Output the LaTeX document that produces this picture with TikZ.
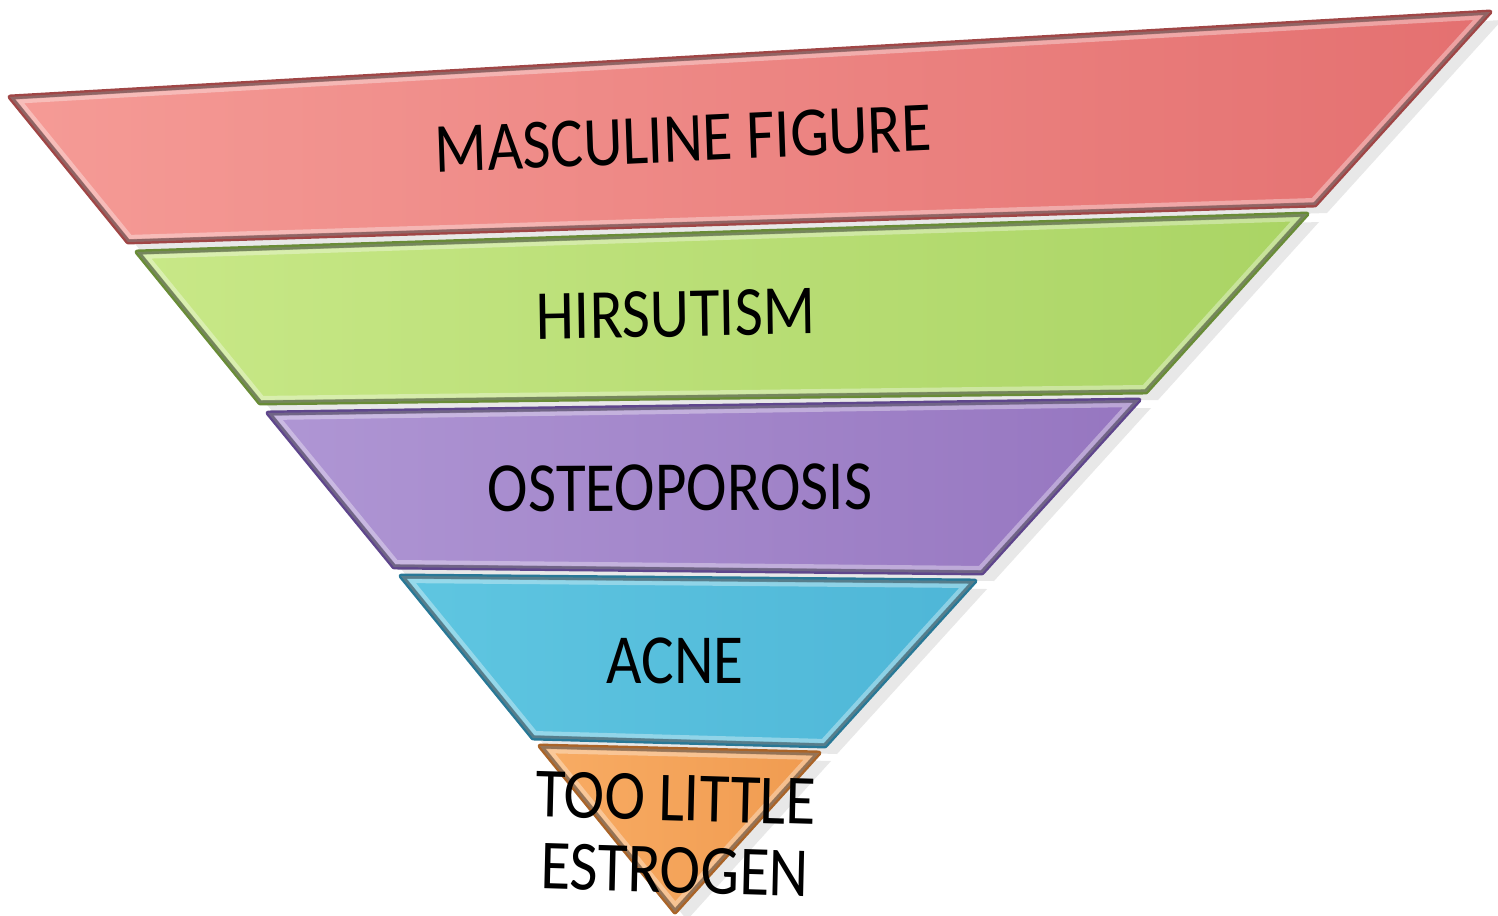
\documentclass[tikz,border=0pt]{standalone}
\usepackage{fontspec}
\setmainfont{Carlito}
\usetikzlibrary{calc,shadows}
\definecolor{figureleft}{RGB}{245,155,150}
\definecolor{figureright}{RGB}{228,112,112}
\definecolor{figureedge}{RGB}{160,70,70}
\definecolor{hairleft}{RGB}{200,232,135}
\definecolor{hairright}{RGB}{170,212,100}
\definecolor{hairedge}{RGB}{105,140,55}
\definecolor{boneleft}{RGB}{175,150,212}
\definecolor{boneright}{RGB}{150,118,192}
\definecolor{boneedge}{RGB}{95,70,140}
\definecolor{acneleft}{RGB}{95,198,225}
\definecolor{acneright}{RGB}{78,182,215}
\definecolor{acneedge}{RGB}{40,120,150}
\definecolor{estrogenleft}{RGB}{248,172,100}
\definecolor{estrogenright}{RGB}{240,155,80}
\definecolor{estrogenedge}{RGB}{170,100,40}
\tikzset{
bandtext/.style={
  font=\fontsize{17.4}{21}\selectfont,
  text=black,
  align=center,
  inner sep=0pt,
  yscale=1.15
},
band/.style={
  line width=1.4pt,
  line join=round,
  drop shadow={opacity=0.18, shadow xshift=1.2mm, shadow yshift=-0.8mm}
},
figureband/.style={band, left color=figureleft, right color=figureright, draw=figureedge},
hairband/.style={band, left color=hairleft, right color=hairright, draw=hairedge},
boneband/.style={band, left color=boneleft, right color=boneright, draw=boneedge},
acneband/.style={band, left color=acneleft, right color=acneright, draw=acneedge},
estrogenband/.style={band, left color=estrogenleft, right color=estrogenright, draw=estrogenedge},
bevel/.style={
  draw=white,
  opacity=0.35,
  line width=4pt,
  line join=round
}
}
% one band of the funnel: style, outline
\newcommand{\funnelband}[2]{
  \path[#1] #2;
  \begin{scope}
    \clip #2;
    \draw[bevel] #2;
    \draw[line width=1.6pt, black, opacity=0.25] #2;
  \end{scope}
}
\begin{document}
\begin{tikzpicture}[x=0.01cm, y=-0.01cm]
\useasboundingbox (0,0) rectangle (1498,916);

% corners of the bands
\coordinate (figure-tl) at (10,97);
\coordinate (figure-tr) at (1490,12);
\coordinate (figure-br) at (1315,205);
\coordinate (figure-bl) at (128,242);
\coordinate (hair-tl) at (137,252);
\coordinate (hair-tr) at (1307,214);
\coordinate (hair-br) at (1146,392);
\coordinate (hair-bl) at (260,403);
\coordinate (bone-tl) at (268,413);
\coordinate (bone-tr) at (1139,400);
\coordinate (bone-br) at (982,573);
\coordinate (bone-bl) at (394,567);
\coordinate (acne-tl) at (401,576);
\coordinate (acne-tr) at (975,581);
\coordinate (acne-br) at (825,746);
\coordinate (acne-bl) at (533,738);
\coordinate (estrogen-tl) at (540,746);
\coordinate (estrogen-tr) at (819,753);
\coordinate (tip) at (675,912);

\funnelband{figureband}{(figure-tl) -- (figure-tr) -- (figure-br) -- (figure-bl) -- cycle}
\funnelband{hairband}{(hair-tl) -- (hair-tr) -- (hair-br) -- (hair-bl) -- cycle}
\funnelband{boneband}{(bone-tl) -- (bone-tr) -- (bone-br) -- (bone-bl) -- cycle}
\funnelband{acneband}{(acne-tl) -- (acne-tr) -- (acne-br) -- (acne-bl) -- cycle}
\funnelband{estrogenband}{(estrogen-tl) -- (estrogen-tr) -- (tip) -- cycle}

\node[bandtext, rotate=2.3] (masculine) at (683,139) {MASCULINE FIGURE};
\node[bandtext, rotate=1] (hirsutism) at (676,314) {HIRSUTISM};
\node[bandtext, rotate=0.3] (osteoporosis) at (680,488) {OSTEOPOROSIS};
\node[bandtext] (acne) at (675,661) {ACNE};
\node[bandtext, rotate=-1.5] (toolittle) at (676,798) {TOO LITTLE};
\node[bandtext, rotate=-1.5] (estrogen) at (675,870) {ESTROGEN};
\end{tikzpicture}
\end{document}
